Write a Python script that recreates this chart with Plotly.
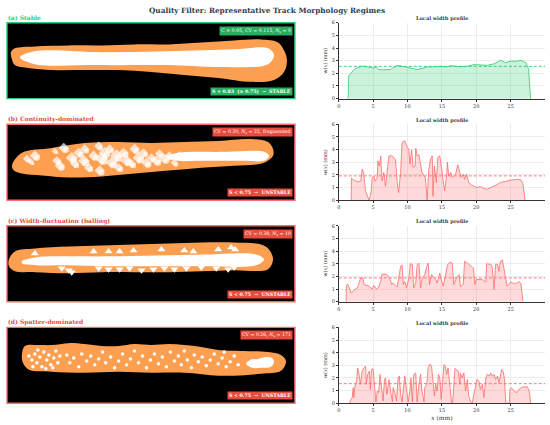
import plotly.graph_objects as go

# ---------------- image panels: outlines in pixel offsets of a 289 x 77 panel ----------------
a_outer_x = [4, 8, 28, 62, 95, 128, 162, 195, 228, 255, 272, 278, 281, 278, 268, 245, 212, 178, 145, 112, 78, 45, 22, 8, 5]
a_outer_y = [30, 26, 24, 23, 23, 22, 22, 20, 18, 17, 20, 28, 38, 50, 58, 60, 56, 53, 50, 48, 48, 48, 46, 43, 37]
a_core_x = [13, 28, 95, 162, 228, 262, 268, 262, 212, 162, 95, 28]
a_core_y = [35, 29, 30, 29, 27, 26, 33, 42, 45, 43, 43, 42]

b_outer_x = [5, 15, 45, 78, 112, 145, 178, 212, 245, 262, 267, 267, 258, 228, 195, 162, 128, 95, 62, 35, 15, 7]
b_outer_y = [42, 29, 24, 19, 18, 19, 18, 17, 15, 18, 25, 32, 39, 42, 44, 47, 50, 53, 54, 52, 50, 47]
b_core_x = [160, 172, 190, 215, 240, 258, 263, 258, 240, 215, 190, 172]
b_core_y = [33, 29, 28, 28, 27, 28, 32, 37, 37, 37, 37, 37]
b_blob_x = [20, 28, 24, 48, 57, 50, 53, 65, 68, 72, 78, 77, 82, 87, 92, 95, 93, 98, 103, 105, 110, 112,
            117, 120, 125, 128, 132, 137, 140, 145, 150, 153, 158, 163, 168, 173]
b_blob_y = [35, 32, 38, 27, 24, 37, 42, 34, 40, 29, 25, 37, 44, 32, 22, 35, 47, 29, 25, 39, 32, 44,
            29, 37, 40, 25, 34, 29, 39, 34, 37, 30, 35, 32, 39, 32]
b_blob_s = [6, 8, 5, 5, 8, 7, 8, 9, 7, 8, 7, 9, 7, 8, 7, 10, 8, 9, 7, 9, 10, 7,
            8, 9, 7, 8, 9, 7, 8, 7, 8, 7, 8, 7, 6, 7]

c_outer_x = [2, 8, 28, 62, 95, 128, 162, 195, 228, 255, 263, 267, 262, 228, 195, 162, 128, 95, 62, 28, 8, 2]
c_outer_y = [34, 26, 23, 21, 20, 19, 18, 17, 17, 19, 24, 34, 44, 45, 46, 47, 47, 47, 48, 47, 46, 41]
c_core_x = [15, 30, 60, 100, 150, 200, 250, 258, 250, 200, 150, 100, 60, 30, 15]
c_core_y = [36, 32, 31, 31, 30, 29, 29, 34, 40, 41, 41, 41, 40, 40, 38]
c_top_x = [28, 87, 102, 113, 127, 155, 178, 187, 212, 225, 229]
c_top_y = [28, 26, 26, 26, 25, 24, 25, 26, 24, 22, 24]
c_bot_x = [55, 62, 65, 92, 102, 113, 123, 135, 147, 158, 168, 180, 195, 210, 222, 228]
c_bot_y = [43, 45, 47, 43, 44, 44, 43, 45, 44, 43, 44, 43, 42, 43, 44, 42]

d_outer_x = [15, 18, 32, 45, 62, 78, 95, 112, 128, 145, 162, 178, 195, 212, 235, 262, 275, 280, 275,
             255, 228, 212, 178, 145, 112, 78, 45, 22, 16]
d_outer_y = [28, 19, 18, 18, 16, 17, 19, 19, 17, 18, 17, 18, 20, 23, 24, 25, 28, 34, 44,
             47, 49, 49, 46, 46, 45, 46, 45, 43, 36]
d_blob_x = [240, 244, 252, 260, 266, 268, 265, 255, 246]
d_blob_y = [37, 33, 32, 30, 31, 35, 40, 41, 41]
d_dot_x = [22, 25, 28, 30, 33, 35, 37, 40, 42, 44, 47, 49, 51, 53, 26, 31, 39, 46,
           60, 63, 67, 72, 75, 80, 84, 88, 92, 96, 99, 104, 108, 112, 116, 120, 124, 128,
           132, 136, 140, 144, 148, 152, 156, 160, 164, 168,
           172, 175, 178, 181, 185, 188, 192, 196, 200, 204, 208, 212, 216, 220, 224, 228, 232, 218]
d_dot_y = [29, 33, 27, 36, 30, 40, 25, 33, 28, 38, 31, 24, 36, 29, 40, 23, 42, 41,
           28, 36, 31, 40, 27, 34, 29, 38, 32, 25, 36, 30, 41, 34, 27, 38, 32, 24,
           36, 29, 41, 33, 27, 37, 30, 40, 25, 34,
           29, 38, 24, 33, 41, 28, 35, 30, 39, 33, 27, 37, 31, 40, 35, 29, 38, 25]

# ---------------- local width profiles ----------------
x_a = [1.36, 1.45, 1.7, 2.4, 3.4, 4.2, 5.1, 5.5, 5.8, 6.5, 7.5, 8.0, 8.5, 9.3, 10.4, 11.4, 12.2, 12.9,
       13.8, 14.8, 15.6, 16.3, 17.5, 18.7, 19.7, 20.5, 21.6, 22.6, 23.5, 24.3, 25.0, 25.8, 26.5,
       27.2, 27.6, 27.9]
w_a = [0, 1.8, 1.97, 2.37, 2.58, 2.5, 2.42, 2.5, 2.3, 2.28, 2.3, 2.45, 2.63, 2.55, 2.42, 2.3, 2.4, 2.5,
       2.52, 2.55, 2.5, 2.6, 2.52, 2.55, 2.7, 2.65, 2.63, 2.75, 3.03, 2.84, 2.97, 2.95, 3.03,
       2.84, 2.37, 0]

x_b = [1.8, 1.85, 2.2, 2.7, 3.2, 3.4, 3.6, 3.9, 4.4, 4.6, 4.75, 4.85, 5.1, 5.3, 5.6, 5.7, 5.9, 6.1,
       6.3, 6.55, 6.8, 7.0, 7.3, 7.8, 8.25, 8.5, 8.7, 9.0, 9.2, 9.6, 9.85, 10.2, 10.35, 10.6, 10.8,
       11.1, 11.2, 11.4, 11.65, 11.9, 12.1, 12.4, 12.6, 12.85, 13.1, 13.35, 13.6, 13.7, 13.9, 14.2,
       14.4, 14.7, 15.0, 15.4, 15.7, 15.8, 16.0, 16.3, 16.5, 17.0, 17.3, 17.6, 17.8, 18.1, 18.3,
       18.6, 18.9, 19.3, 19.7, 20.1, 20.6, 21.1, 21.6, 22.1, 22.6, 23.1, 23.5, 24.0, 24.5, 25.2,
       26.0, 26.5, 26.8, 27.1]
w_b = [0, 1.74, 1.6, 1.45, 1.5, 2.45, 2.2, 0.74, 0, 0.35, 0.87, 1.8, 1.9, 1.5, 1.8, 3.1, 2.7, 3.5,
       1.53, 2.2, 1.1, 2.2, 3.5, 3.5, 3.2, 1.4, 0.6, 2.2, 4.55, 4.7, 4.3, 4.0, 2.85, 4.0, 2.6,
       2.7, 4.1, 3.5, 3.6, 2.85, 2.2, 1.9, 1.8, 0, 2.45, 3.25, 3.5, 0.3, 2.7, 1.4,
       3.37, 3.5, 2.2, 0.74, 2.05, 3.0, 1.9, 2.2, 1.8, 2.05, 2.8, 2.2, 1.8, 2.05, 1.65,
       2.05, 1.4, 1.2, 1.13, 1.0, 1.08, 0.92, 0.87, 1.0, 1.08, 1.26, 1.4, 1.47, 1.5, 1.6,
       1.65, 1.6, 1.26, 0]

x_c = [1.07, 1.1, 1.3, 1.6, 1.8, 2.2, 2.7, 3.2, 3.5, 3.7, 4.4, 4.85, 5.1, 5.5, 5.8, 6.1, 6.3, 7.0,
       7.4, 7.7, 7.9, 8.5, 8.7, 9.0, 9.2, 9.4, 9.6, 9.85, 10.2, 10.4, 10.7, 10.9, 11.2, 11.4, 11.65,
       11.9, 12.1, 12.5, 12.8, 13.0, 13.2, 13.5, 13.8, 14.1, 14.3, 14.6, 14.7, 14.9, 15.2, 15.5,
       15.8, 16.2, 16.5, 16.75, 17.1, 17.5, 17.7, 18.1, 18.3, 18.7, 19.2, 19.6, 19.8, 20.0, 20.9,
       21.4, 21.5, 22.1, 22.3, 22.6, 22.8, 23.1, 23.3, 23.5, 23.8, 24.0, 24.3, 24.5, 25.0, 25.5,
       26.0, 26.2, 26.5, 26.8]
w_c = [0, 1.28, 1.4, 0.97, 0.7, 0.9, 1.1, 1.88, 1.88, 1.35, 1.23, 1.0, 1.28, 1.0, 1.17, 1.6, 2.2, 2.15,
       1.88, 1.35, 1.48, 1.17, 1.75, 2.8, 2.9, 1.35, 1.6, 1.1, 1.88, 3.0, 2.95, 1.1, 1.48, 2.9, 3.05,
       1.1, 1.75, 2.15, 2.8, 3.05, 1.35, 2.15, 1.88, 1.75, 1.48, 2.15, 2.27, 1.75, 1.23, 2.0,
       2.9, 3.13, 3.05, 1.35, 1.88, 2.15, 1.2, 1.35, 3.2, 3.05, 2.8, 2.65, 1.35, 1.75, 1.75,
       1.55, 3.0, 2.95, 2.8, 0.97, 2.95, 2.95, 2.4, 3.18, 3.3, 2.55, 1.75, 1.23, 1.55, 1.44,
       1.48, 1.6, 1.44, 0]

x_d = [1.55, 1.7, 1.95, 2.1, 2.2, 2.35, 2.6, 2.75, 2.95, 3.15, 3.4, 3.65, 3.9, 4.0, 4.2, 4.45, 4.6,
       4.75, 5.0, 5.2, 5.4, 5.6, 5.8, 6.0, 6.2, 6.45, 6.65, 6.8, 7.0, 7.3, 7.5, 7.8, 7.9, 8.15,
       8.4, 8.6, 8.8, 9.0, 9.2, 9.4, 9.6, 9.85, 10.1, 10.35, 10.5, 10.7, 10.9, 11.2, 11.4, 11.65,
       11.9, 12.1, 12.4, 12.5, 12.8, 13.0, 13.25, 13.5, 13.7, 13.9, 14.1, 14.3, 14.5, 14.7, 14.9,
       15.15, 15.3, 15.5, 15.7, 15.9, 16.1, 16.4, 16.55, 16.75, 16.9, 17.1, 17.4, 17.6, 17.7,
       17.95, 18.2, 18.45, 18.7, 18.9, 19.2, 19.4, 19.7, 19.9, 20.1, 20.4, 20.6, 20.9, 21.1,
       21.4, 21.6, 21.9, 22.1, 22.3, 22.6, 22.8, 23.1, 23.3, 23.5, 23.7, 23.9, 24.1, 24.3, 24.8,
       24.9, 25.1, 25.5, 25.9, 26.2, 26.7, 27.4, 27.7, 27.9]
w_d = [0, 0.24, 0.45, 1.23, 0.45, 1.36, 1.75, 2.8, 2.28, 1.5, 2.54, 2.8, 2.93, 1.5, 2.28, 2.54, 1.1,
       2.67, 2.72, 0.97, 0.1, 0.97, 0.84, 2.28, 1.1, 0.18, 1.88, 2.0, 0.7, 1.88, 1.1, 0.1, 1.23, 0.84,
       0.18, 1.88, 2.15, 0.7, 0.1, 1.5, 2.15, 1.1, 0.1, 0.97, 2.0, 0.1, 2.28, 2.4, 0.1, 1.5,
       2.28, 0.97, 0.1, 1.23, 1.5, 2.8, 3.1, 2.93, 2.0, 0.58, 1.5, 0.97, 2.28, 2.0, 0.3,
       2.28, 3.06, 2.93, 2.28, 2.8, 1.5, 0.1, 0, 1.5, 2.75, 2.67, 2.54, 1.5, 2.36,
       2.0, 2.4, 0.97, 1.88, 0.58, 0.1, 0, 0.84, 1.23, 1.88, 1.75, 1.1, 1.5, 0.45,
       2.0, 2.28, 2.15, 2.4, 2.15, 2.28, 1.88, 2.15, 1.62, 2.33, 2.67, 2.54, 1.94, 0, 0,
       1.1, 1.23, 0.97, 0.84, 1.1, 1.28, 1.31, 0.97, 0]

mean_w = [2.55, 1.92, 1.88, 1.55]

labels = ["(a) Stable", "(b) Continuity-dominated", "(c) Width-fluctuation (balling)", "(d) Spatter-dominated"]
top_notes = ["C ≥ 0.95, CV = 0.115, <i>N</i><sub>s</sub> = 0",
             "CV = 0.30, <i>N</i><sub>s</sub> = 22, fragmented",
             "CV = 0.38, <i>N</i><sub>s</sub> = 10",
             "CV = 0.26, <i>N</i><sub>s</sub> = 171"]
bottom_notes = ["S = 0.83  (≥ 0.75)  →  STABLE",
                "S < 0.75  →  UNSTABLE",
                "S < 0.75  →  UNSTABLE",
                "S < 0.75  →  UNSTABLE"]

FONT = "DejaVu Serif"
GREEN = "#2ecc71"
RED = "#ff6b6b"
LABEL_RED = "#e74c3c"
ORANGE = "#fd9f50"
W, H = 550, 425
row_tops = [20, 123, 226, 329]
row_h = 77


def fx(p):
    return p / W


def fy(p):
    return 1 - p / H


def ax_names(n):
    k = "" if n == 1 else str(n)
    return "x" + k, "y" + k, "xaxis" + k, "yaxis" + k


fig = go.Figure()
layout = dict(width=W, height=H, margin=dict(l=0, r=0, t=0, b=0), autosize=False,
              paper_bgcolor="white", plot_bgcolor="white", showlegend=False,
              font=dict(family=FONT, color="#333"))
shapes = []
annotations = []

# ---------- left image panels ----------
panels = [
    dict(outer=(a_outer_x, a_outer_y), core=(a_core_x, a_core_y)),
    dict(outer=(b_outer_x, b_outer_y), core=(b_core_x, b_core_y)),
    dict(outer=(c_outer_x, c_outer_y), core=(c_core_x, c_core_y)),
    dict(outer=(d_outer_x, d_outer_y), core=(d_blob_x, d_blob_y)),
]

for i, p in enumerate(panels):
    xa, ya, xk, yk = ax_names(i + 1)
    ox, oy = p["outer"]
    cx, cy = p["core"]
    fig.add_trace(go.Scatter(x=ox + ox[:1], y=oy + oy[:1], xaxis=xa, yaxis=ya, mode="lines",
                             fill="toself", fillcolor=ORANGE, line=dict(width=0, shape="spline"),
                             hoverinfo="skip"))
    fig.add_trace(go.Scatter(x=cx + cx[:1], y=cy + cy[:1], xaxis=xa, yaxis=ya, mode="lines",
                             fill="toself", fillcolor="white", line=dict(width=0, shape="spline"),
                             hoverinfo="skip"))
    top = row_tops[i]
    layout[xk] = dict(domain=[fx(5), fx(294)], range=[0, 289], visible=False,
                      anchor=ya, fixedrange=True)
    layout[yk] = dict(domain=[fy(top + row_h), fy(top)], range=[row_h, 0], visible=False,
                      anchor=xa, fixedrange=True)
    col = GREEN if i == 0 else LABEL_RED
    box = "#27ae60" if i == 0 else "#e74c3c"
    shapes.append(dict(type="rect", xref=f"{xa} domain", yref=f"{ya} domain", x0=0, x1=1, y0=0, y1=1,
                       fillcolor="black", line=dict(color=GREEN if i == 0 else RED, width=1.4),
                       layer="below"))
    annotations.append(dict(text=labels[i], xref="paper", yref="paper", x=fx(4),
                            y=fy(top - 5), xanchor="left", yanchor="middle", showarrow=False,
                            font=dict(family=FONT, size=6, color=col, weight="bold")))
    annotations.append(dict(text=top_notes[i], xref=f"{xa} domain", yref=f"{ya} domain", x=0.993, y=0.96,
                            xanchor="right", yanchor="top", showarrow=False, bgcolor=box, borderpad=1,
                            font=dict(family=FONT, size=4.7, color="white")))
    annotations.append(dict(text=bottom_notes[i], xref=f"{xa} domain", yref=f"{ya} domain", x=0.993, y=0.04,
                            xanchor="right", yanchor="bottom", showarrow=False, bgcolor=box, borderpad=1,
                            font=dict(family=FONT, size=4.7, color="white", weight="bold")))

# white blobs / spatter
fig.add_trace(go.Scatter(x=b_blob_x, y=b_blob_y, xaxis="x2", yaxis="y2", mode="markers",
                         marker=dict(color="white", size=b_blob_s, symbol="diamond", line=dict(width=0)),
                         hoverinfo="skip"))
fig.add_trace(go.Scatter(x=[v + 2 for v in b_blob_x], y=[v + 2 for v in b_blob_y], xaxis="x2", yaxis="y2",
                         mode="markers",
                         marker=dict(color="white", size=[s - 2 for s in b_blob_s], symbol="circle",
                                     line=dict(width=0)), hoverinfo="skip"))
fig.add_trace(go.Scatter(x=c_top_x, y=c_top_y, xaxis="x3", yaxis="y3", mode="markers",
                         marker=dict(color="white", size=7, symbol="triangle-up", line=dict(width=0)),
                         hoverinfo="skip"))
fig.add_trace(go.Scatter(x=c_bot_x, y=c_bot_y, xaxis="x3", yaxis="y3", mode="markers",
                         marker=dict(color="white", size=7, symbol="triangle-down", line=dict(width=0)),
                         hoverinfo="skip"))
fig.add_trace(go.Scatter(x=d_dot_x, y=d_dot_y, xaxis="x4", yaxis="y4", mode="markers",
                         marker=dict(color="white", size=3.5, line=dict(width=0)), hoverinfo="skip"))

# ---------- right width profiles ----------
profiles = [(x_a, w_a), (x_b, w_b), (x_c, w_c), (x_d, w_d)]
for i, (xs, ws) in enumerate(profiles):
    xa, ya, xk, yk = ax_names(i + 5)
    col = GREEN if i == 0 else RED
    fill = "rgba(46,204,113,0.25)" if i == 0 else "rgba(255,107,107,0.25)"
    fig.add_trace(go.Scatter(x=xs, y=ws, xaxis=xa, yaxis=ya, mode="lines", fill="tozeroy",
                             fillcolor=fill, line=dict(color=col, width=0.8), hoverinfo="skip"))
    shapes.append(dict(type="line", xref=f"{xa} domain", yref=ya, x0=0, x1=1, y0=mean_w[i], y1=mean_w[i],
                       line=dict(color=col, width=0.9, dash="3px,2px")))
    top = row_tops[i]
    layout[xk] = dict(domain=[fx(338), fx(545)], range=[0, 30], anchor=ya,
                      tickvals=[0, 5, 10, 15, 20, 25], showline=True, linecolor="#333",
                      linewidth=0.8, ticks="outside", ticklen=2, tickwidth=0.6, tickcolor="#333",
                      tickfont=dict(family=FONT, size=5, color="#333"), showgrid=True,
                      gridcolor="#ececec", gridwidth=0.5, zeroline=False, fixedrange=True)
    if i == 3:
        layout[xk]["title"] = dict(text="<i>x</i> (mm)", font=dict(family=FONT, size=6), standoff=3)
    layout[yk] = dict(domain=[fy(top + row_h), fy(top)], range=[0, 6], anchor=xa,
                      tickvals=[0, 1, 2, 3, 4, 5, 6], showline=True, linecolor="#333",
                      linewidth=0.8, ticks="outside", ticklen=2, tickwidth=0.6, tickcolor="#333",
                      tickfont=dict(family=FONT, size=5, color="#333"), showgrid=True,
                      gridcolor="#ececec", gridwidth=0.5, zeroline=False, fixedrange=True,
                      title=dict(text="<i>w</i>(<i>x</i>) (mm)", font=dict(family=FONT, size=5),
                                 standoff=3))
    annotations.append(dict(text="Local width profile", xref="paper", yref="paper",
                            x=fx(441.5), y=fy(top - 4), xanchor="center", yanchor="middle",
                            showarrow=False, font=dict(family=FONT, size=5, color="#2c3e50", weight="bold")))

annotations.append(dict(text="Quality Filter: Representative Track Morphology Regimes",
                        xref="paper", yref="paper", x=fx(266), y=fy(8), xanchor="center",
                        yanchor="middle", showarrow=False,
                        font=dict(family=FONT, size=7.3, color="#2c3e50", weight="bold")))

layout["shapes"] = shapes
layout["annotations"] = annotations
fig.update_layout(layout)
fig.write_html("out.html", config={"displayModeBar": False},
               post_script="document.body.style.margin='0';")
